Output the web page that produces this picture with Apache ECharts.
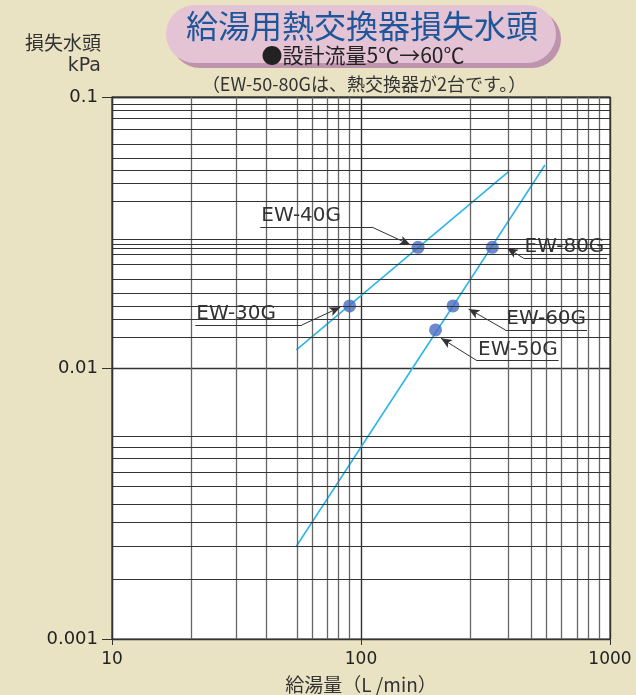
<!DOCTYPE html>
<html>
<head>
<meta charset="utf-8">
<script src="https://cdn.jsdelivr.net/npm/echarts@6/dist/echarts.min.js"></script>
<style>
html,body{margin:0;padding:0;background:#E9E3C4;}
#c{width:636px;height:695px;}
</style>
</head>
<body>
<div id="c"></div>
<script>
// ---- data ----
const xTicks = [10, 100, 1000];
const yTicks = [0.001, 0.01, 0.1];
// extra grid lines of the printed chart
const xGridValues = [20.8, 31.5, 41.7, 55.3, 63.6, 73.2, 81.1, 90.0, 275, 390, 481, 554, 637, 736, 815, 902];
const yGridValues = [0.0944, 0.0890, 0.0833, 0.0761, 0.0671, 0.0594, 0.0535, 0.0480, 0.0413,
  0.0298, 0.0286, 0.0276, 0.0263, 0.0241, 0.0212, 0.0188, 0.0169, 0.0151, 0.0130,
  0.00558, 0.00509, 0.00466, 0.00414, 0.00366, 0.00315, 0.0027, 0.00219, 0.001665];

// curve for EW-30G / EW-40G
const curveA_x = [55.0, 391.6];
const curveA_y = [0.01166, 0.0530];
// curve for EW-50G ... EW-80G
const curveB_x = [55.0, 548.0];
const curveB_y = [0.00220, 0.0561];

// design points
const modelNames = ['EW-30G', 'EW-40G', 'EW-50G', 'EW-60G', 'EW-80G'];
const modelFlow  = [90.0, 169.4, 199.3, 234.2, 336.7];
const modelLoss  = [0.01694, 0.02787, 0.01382, 0.01694, 0.02787];

// annotation leaders (data coordinates)
const annoNames   = ['EW-40G', 'EW-30G', 'EW-80G', 'EW-60G', 'EW-50G'];
const annoLineX0  = [39.4, 21.6, 449.8, 379.8, 292.4];
const annoLineX1  = [110.7, 57.9, 972.7, 808.3, 621.7];
const annoLineY   = [0.0331, 0.01441, 0.02542, 0.01382, 0.01064];
const annoFromX   = [110.7, 57.9, 449.8, 379.8, 292.4];
const annoTipX    = [157.8, 82.6, 385.8, 270.5, 209.6];
const annoTipY    = [0.02847, 0.01676, 0.02768, 0.01652, 0.01288];

// ---- chart ----
const chart = echarts.init(document.getElementById('c'), null, {renderer: 'canvas'});

const xMin = xTicks[0], xMax = xTicks[xTicks.length - 1];
const yMin = yTicks[0], yMax = yTicks[yTicks.length - 1];

const vGridMarks = xGridValues.map(v => [{coord: [v, yMin]}, {coord: [v, yMax]}]);
const hGridMarks = yGridValues.map(v => [{coord: [xMin, v]}, {coord: [xMax, v]}]);

const annoMarks = [];
annoNames.forEach((n, i) => {
  annoMarks.push([
    {coord: [annoLineX0[i], annoLineY[i]], symbol: 'none',
     label: {show: true, formatter: n, position: 'insideStartTop'}},
    {coord: [annoLineX1[i], annoLineY[i]], symbol: 'none'}
  ]);
  annoMarks.push([
    {coord: [annoFromX[i], annoLineY[i]], symbol: 'none', label: {show: false}},
    {coord: [annoTipX[i], annoTipY[i]], symbol: 'arrow', symbolSize: [7, 11]}
  ]);
});

const option = {
  backgroundColor: '#E9E3C4',
  animation: false,
  graphic: [
    {type: 'rect', shape: {x: 171, y: 10, width: 390, height: 58, r: 29}, style: {fill: '#BE93AE'}, z: 0},
    {type: 'rect', shape: {x: 166, y: 5, width: 390, height: 58, r: 29}, style: {fill: '#E4C3D5'}, z: 1},
    {type: 'text', x: 362, y: 26, z: 2, style: {text: '給湯用熱交換器損失水頭', fill: '#1D569A',
      font: '32px "Noto Sans CJK JP"', align: 'center', verticalAlign: 'middle'}},
    {type: 'text', x: 363, y: 55, z: 2, style: {text: '●設計流量5℃→60℃', fill: '#222',
      font: '21px "Noto Sans CJK JP"', align: 'center', verticalAlign: 'middle'}},
    {type: 'text', x: 364, y: 84, z: 2, style: {text: '（EW-50-80Gは、熱交換器が2台です。）', fill: '#333',
      font: '18px "Noto Sans CJK JP"', align: 'center', verticalAlign: 'middle'}},
    {type: 'text', x: 101, y: 43, z: 2, style: {text: '損失水頭', fill: '#333',
      font: '19px "Noto Sans CJK JP"', align: 'right', verticalAlign: 'middle'}},
    {type: 'text', x: 101, y: 66, z: 2, style: {text: 'kPa', fill: '#333',
      font: '19px "DejaVu Sans"', align: 'right', verticalAlign: 'middle'}}
  ],
  grid: {left: 112, right: 26, top: 97, bottom: 56, show: true, backgroundColor: '#ffffff',
         borderColor: '#333', borderWidth: 1.2, outerBoundsMode: 'none', containLabel: false},
  xAxis: {
    type: 'log', logBase: 10, min: xMin, max: xMax,
    name: '給湯量（L /min）', nameLocation: 'middle', nameGap: 36,
    nameTextStyle: {fontFamily: 'Noto Sans CJK JP', fontSize: 19, color: '#333'},
    axisLine: {show: true, lineStyle: {color: '#333', width: 1.2}},
    axisTick: {show: true, length: 6, lineStyle: {color: '#333'}},
    axisLabel: {fontFamily: 'DejaVu Sans', fontSize: 17, color: '#222', margin: 12,
      formatter: v => String(+v.toPrecision(3))},
    splitLine: {show: true, lineStyle: {color: '#333', width: 1.4}},
    minorTick: {show: false}, minorSplitLine: {show: false}
  },
  yAxis: {
    type: 'log', logBase: 10, min: yMin, max: yMax,
    axisLine: {show: true, lineStyle: {color: '#333', width: 1.2}},
    axisTick: {show: true, length: 10, lineStyle: {color: '#333'}},
    axisLabel: {fontFamily: 'DejaVu Sans', fontSize: 18, color: '#222', margin: 14,
      formatter: v => String(+v.toPrecision(3))},
    splitLine: {show: true, lineStyle: {color: '#333', width: 1.4}},
    minorTick: {show: false}, minorSplitLine: {show: false}
  },
  series: [
    {
      name: 'vgrid', type: 'line', z: 1, silent: true,
      data: [[100, 0.01]], showSymbol: false, lineStyle: {opacity: 0},
      markLine: {silent: true, symbol: ['none', 'none'], animation: false, precision: 10,
        label: {show: false},
        lineStyle: {type: 'solid', color: '#666', width: 1.3, opacity: 1},
        emphasis: {disabled: true},
        data: vGridMarks}
    },
    {
      name: 'hgrid', type: 'line', z: 1, silent: true,
      data: [[100, 0.01]], showSymbol: false, lineStyle: {opacity: 0},
      markLine: {silent: true, symbol: ['none', 'none'], animation: false, precision: 10,
        label: {show: false},
        lineStyle: {type: 'solid', color: '#333', width: 1.1, opacity: 1},
        emphasis: {disabled: true},
        data: hGridMarks}
    },
    {
      name: 'curveA', type: 'line', z: 3, showSymbol: false, silent: true,
      data: curveA_x.map((x, i) => [x, curveA_y[i]]),
      lineStyle: {color: '#2CB6E8', width: 1.6}
    },
    {
      name: 'curveB', type: 'line', z: 3, showSymbol: false, silent: true,
      data: curveB_x.map((x, i) => [x, curveB_y[i]]),
      lineStyle: {color: '#2CB6E8', width: 1.6}
    },
    {
      name: 'points', type: 'scatter', z: 4, symbolSize: 13,
      itemStyle: {color: '#4A6DC2'},
      data: modelFlow.map((x, i) => ({name: modelNames[i], value: [x, modelLoss[i]]}))
    },
    {
      name: 'annotations', type: 'line', z: 5, silent: true,
      data: [[100, 0.01]], showSymbol: false, lineStyle: {opacity: 0},
      markLine: {silent: true, symbol: ['none', 'none'], animation: false, precision: 10,
        lineStyle: {type: 'solid', color: '#333', width: 1, opacity: 1},
        itemStyle: {color: '#222'},
        label: {show: false, fontFamily: 'DejaVu Sans', fontSize: 20, color: '#333', distance: 1},
        emphasis: {disabled: true},
        data: annoMarks}
    }
  ]
};
chart.setOption(option);
</script>
</body>
</html>
